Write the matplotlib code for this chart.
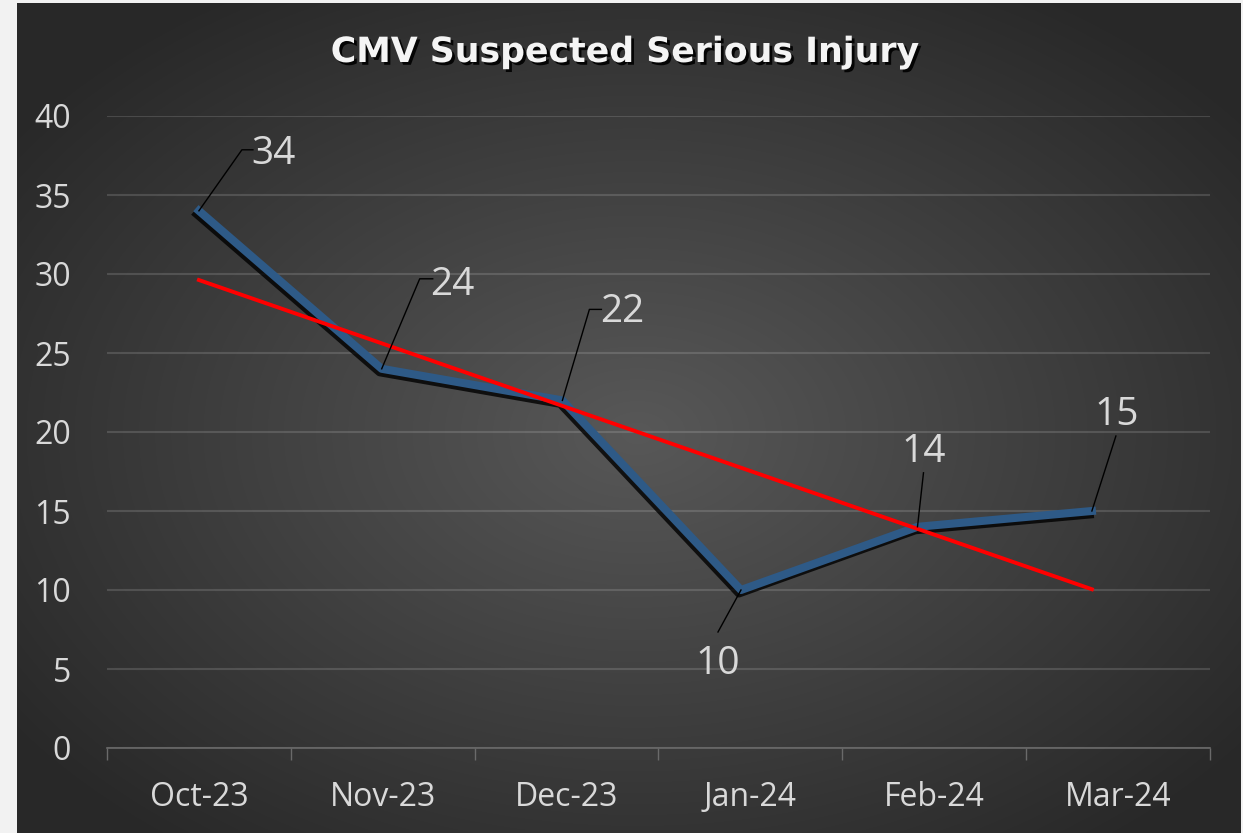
import numpy as np
import matplotlib
matplotlib.use("Agg")
import matplotlib.pyplot as plt
import matplotlib.patheffects as pe
from matplotlib.lines import Line2D
from matplotlib.transforms import IdentityTransform

# ---------------- data ----------------
months = ["Oct-23", "Nov-23", "Dec-23", "Jan-24", "Feb-24", "Mar-24"]
injuries = [34, 24, 22, 10, 14, 15]
y_ticks = [0, 5, 10, 15, 20, 25, 30, 35, 40]
title = "CMV Suspected Serious Injury"

# ---------------- layout (pixels, reference coords: y downward) ----------------
W, H = 1243, 833
label_offsets = [(75, -61), (71, -88), (60, -92), (-23, 70), (6, -79), (25, -100)]
leader_elbows = [
    [(43, -61), (54, -61)],
    [(38, -90), (51, -90)],
    [(27, -91), (39, -91)],
    [(-23, 42)],
    [(6, -54)],
    [(24, -75)],
]
persp = 0.0057  # horizontal perspective squeeze of the series layer

FONT = "Open Sans"
TXT = "#d9d9d9"

fig = plt.figure(figsize=(W / 100, H / 100), dpi=100, facecolor="#f2f2f2")

# background radial gradient
bx0, by0, bw, bh = 17, 3, 1224, 830
bg = fig.add_axes([bx0 / W, 0, bw / W, bh / H])
yy, xx = np.mgrid[0:bh, 0:bw]
cx, cy = 620, 430
r = np.sqrt(((xx - cx) / (bw * 0.62)) ** 2 + ((yy - cy) / (bh * 0.62)) ** 2)
v = 0.345 - 0.185 * np.clip(r, 0, 1)
bg.imshow(np.dstack([v, v, v]), aspect="auto", interpolation="bilinear")
bg.set_axis_off()

# main axes
ax = fig.add_axes([107 / W, 85 / H, 1103 / W, (748 - 116) / H])
ax.set_facecolor("none")
ax.set_xlim(-0.5, 5.5)
ax.set_ylim(0, 40)
for s in ["left", "right", "top"]:
    ax.spines[s].set_visible(False)
ax.spines["bottom"].set_color("#6a6a6a")
ax.spines["bottom"].set_linewidth(1.2)
ax.set_yticks(y_ticks)
ax.set_yticklabels([str(t) for t in y_ticks])
ax.set_xticks(range(len(months)))
ax.set_xticklabels(months)
ax.set_xticks(np.arange(-0.5, len(months), 1.0), minor=True)
ax.tick_params(axis="x", which="major", length=0, pad=24, labelsize=23, labelcolor=TXT)
ax.tick_params(axis="x", which="minor", length=8.5, width=1.0, color="#6a6a6a", direction="out")
ax.tick_params(axis="y", length=0, pad=26, labelsize=23, labelcolor=TXT)
for lab in ax.get_xticklabels() + ax.get_yticklabels():
    lab.set_fontfamily(FONT)
ax.grid(axis="y", color="white", alpha=0.14, linewidth=1.5)
ax.set_axisbelow(True)

xs = np.arange(len(injuries))
xp = xs - persp * xs ** 2

ax.plot(xp, injuries, color="#2e5a87", lw=5.8, solid_joinstyle="round",
        zorder=3,
        path_effects=[pe.SimpleLineShadow(offset=(-1.5, -2.5), shadow_color="black",
                                          alpha=0.8, rho=1.0), pe.Normal()])

slope, intercept = np.polyfit(xs, injuries, 1)
xt = np.array([0, len(injuries) - 1])
ax.plot(xt - persp * xt ** 2, slope * xt + intercept, color="#ff0000", lw=2.8, zorder=4)

# data labels with leader lines
for i, val in enumerate(injuries):
    px, py = ax.transData.transform((xp[i], val))
    dx, dy = label_offsets[i]
    pts = [(px, py)] + [(px + ex, py - ey) for ex, ey in leader_elbows[i]]
    fig.add_artist(Line2D([p[0] for p in pts], [p[1] for p in pts], color="black",
                          lw=1.0, transform=IdentityTransform(), zorder=5))
    fig.text((px + dx) / W, (py - dy - 14) / H, str(val), ha="center", va="baseline",
             fontsize=28, color=TXT, family=FONT, zorder=6)

fig.text(625 / W, (H - 62) / H, title, ha="center", va="baseline", fontsize=25,
         weight="bold", color="#f4f4f4", family="DejaVu Sans",
         path_effects=[pe.withSimplePatchShadow(offset=(2, -2), shadow_rgbFace="black", alpha=0.9)])

fig.savefig("out.png", dpi=100, facecolor=fig.get_facecolor())
